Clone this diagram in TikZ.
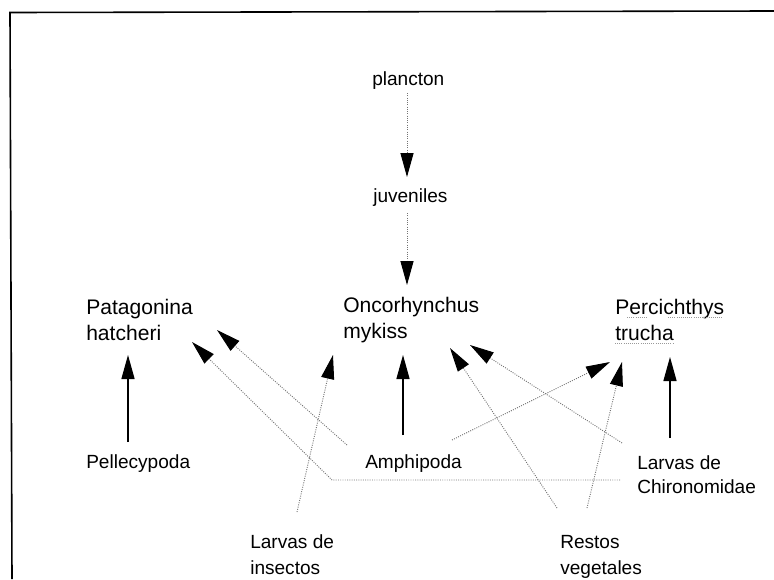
\documentclass[tikz,border=0pt]{standalone}
\usepackage{fontspec}
\setmainfont{Liberation Sans}
\usetikzlibrary{arrows.meta}
\begin{document}
\begin{tikzpicture}[x=0.75pt,y=-0.75pt,
  lab/.style={font=\fontsize{14.3}{19.5}\selectfont, inner sep=0pt, anchor=west, align=left},
  sp/.style={font=\fontsize{15.8}{20}\selectfont, inner sep=0pt, anchor=west, align=left},
  solidarr/.style={line width=0.9pt, black, -{Triangle[length=18pt,width=9.8pt]}},
  dotarr/.style={line width=0.7pt, black!55, densely dotted, -{Triangle[length=18pt,width=9.8pt,color=black]}},
  uline/.style={line width=0.6pt, black!40, densely dotted},
  frame/.style={line width=1.2pt, black}
]
\useasboundingbox (0,0) rectangle (774,579);
% frame
\draw[frame] (774,11) -- (10,12.5) -- (12,579);

% nodes
\node[lab] (plancton) at (372,81) {plancton};
\node[lab] (juv) at (373,198) {juveniles};
\node[sp] (pat) at (86,320) {Patagonina\\hatcheri};
\node[sp] (onc) at (343,320) {Oncorhynchus\\mykiss};
\node[sp] (per) at (615,320) {Percichthys\\trucha};
\node[lab] (pel) at (86,464) {Pellecypoda};
\node[lab] (amp) at (365,464) {Amphipoda};
\node[lab, font=\fontsize{14.3}{18}\selectfont] (chi) at (637,475) {Larvas de\\Chironomidae};
\node[lab] (ins) at (250,555) {Larvas de\\insectos};
\node[lab] (res) at (560,557) {Restos\\vegetales};

% faint underlines
\draw[uline] (627,317) -- (647,317);
\draw[uline] (668,317) -- (723,317);
\draw[uline] (615,343) -- (673,343);

% connector end points
\coordinate (plS) at (407,93);   \coordinate (juT) at (407,177);
\coordinate (juS) at (407,213);  \coordinate (onT) at (407,285);
\coordinate (peS) at (128,442);  \coordinate (paT1) at (128,355);
\coordinate (amS1) at (403,435); \coordinate (onT1) at (403,355);
\coordinate (chS1) at (670,438); \coordinate (prT1) at (670,357);
\coordinate (amS2) at (347,445); \coordinate (paT2) at (217,330);
\coordinate (chS2) at (620,480); \coordinate (bend) at (332,480); \coordinate (paT3) at (192,342);
\coordinate (inS) at (297,512);  \coordinate (onT2) at (333,355);
\coordinate (amS3) at (452,440); \coordinate (prT2) at (610,362);
\coordinate (chS3) at (622,443); \coordinate (onT3) at (470,345);
\coordinate (reS1) at (557,508); \coordinate (onT4) at (450,348);
\coordinate (reS2) at (587,508); \coordinate (prT3) at (622,362);

% connectors
\draw[dotarr] (plS) -- (juT);
\draw[dotarr] (juS) -- (onT);
\draw[solidarr] (peS) -- (paT1);
\draw[solidarr] (amS1) -- (onT1);
\draw[solidarr] (chS1) -- (prT1);
\draw[dotarr] (amS2) -- (paT2);
\draw[dotarr] (chS2) -- (bend) -- (paT3);
\draw[dotarr] (inS) -- (onT2);
\draw[dotarr] (amS3) -- (prT2);
\draw[dotarr] (chS3) -- (onT3);
\draw[dotarr] (reS1) -- (onT4);
\draw[dotarr] (reS2) -- (prT3);
\end{tikzpicture}
\end{document}
